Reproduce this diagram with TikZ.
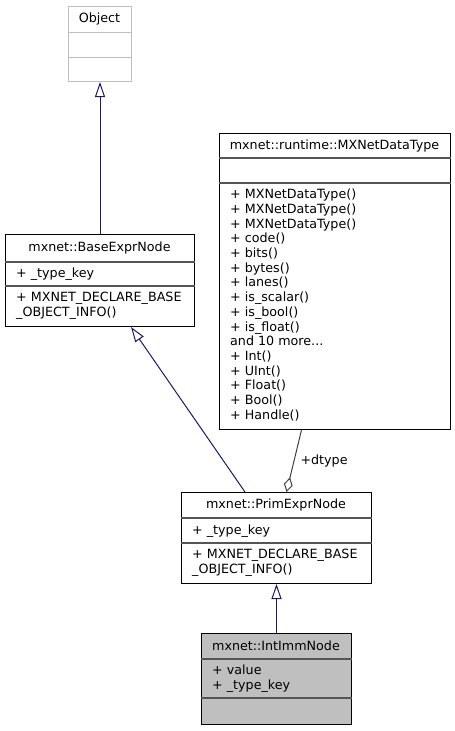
\documentclass[tikz,border=0pt]{standalone}
\usepackage{fontspec}
\setmainfont{DejaVu Sans}
\usetikzlibrary{arrows.meta}
\definecolor{edgeblue}{RGB}{25,25,112}
\definecolor{assoc}{RGB}{64,64,64}
\definecolor{muted}{RGB}{191,191,191}
\definecolor{rule}{RGB}{85,85,85}
\begin{document}
\begin{tikzpicture}[x=1pt,y=-1pt,
  every node/.style={font=\fontsize{12.7}{14.7}\selectfont, inner sep=0pt},
  classbox/.style={draw=black, line width=1pt, anchor=north west, inner sep=0pt},
  divider/.style={draw=rule, line width=1.4pt},
  title/.style={anchor=center},
  member/.style={anchor=west, align=left},
  inherit/.style={draw=edgeblue, line width=1pt, -{Triangle[open,length=15pt,width=10pt]}},
  usage/.style={draw=assoc, line width=1pt, {Diamond[open,length=15pt,width=9pt]}-}
]
\useasboundingbox (0,0) rectangle (455,731);

% Object (external base, greyed out)
\node[classbox, draw=muted, minimum width=63pt, minimum height=75pt] (obj) at (68,6) {};
\draw[divider, draw=muted, line width=1pt] (obj.west |- 0,32) -- (obj.east |- 0,32);
\draw[divider, draw=muted, line width=1pt] (obj.west |- 0,57) -- (obj.east |- 0,57);
\node[title] (objname) at (99.5,19) {Object};

% mxnet::BaseExprNode
\node[classbox, minimum width=189pt, minimum height=92pt] (base) at (5,234) {};
\draw[divider] (base.west |- 0,262) -- (base.east |- 0,262);
\draw[divider] (base.west |- 0,286) -- (base.east |- 0,286);
\node[title] (basename) at (99.5,248) {mxnet::BaseExprNode};
\node[member] (baseattr) at (16,274) {+ \_type\_key};
\node[member] (baseops) at (16,306) {+ MXNET\_DECLARE\_BASE\\\_OBJECT\_INFO()};

% mxnet::runtime::MXNetDataType
\node[classbox, minimum width=231pt, minimum height=296pt] (dt) at (219,133) {};
\draw[divider] (dt.west |- 0,158) -- (dt.east |- 0,158);
\draw[divider] (dt.west |- 0,183) -- (dt.east |- 0,183);
\node[title] (dtname) at (334.5,146) {mxnet::runtime::MXNetDataType};
\node[member] (dtops) at (230,305) {+ MXNetDataType()\\+ MXNetDataType()\\+ MXNetDataType()\\+ code()\\+ bits()\\+ bytes()\\+ lanes()\\+ is\_scalar()\\+ is\_bool()\\+ is\_float()\\and 10 more...\\+ Int()\\+ UInt()\\+ Float()\\+ Bool()\\+ Handle()};

% mxnet::PrimExprNode
\node[classbox, minimum width=190pt, minimum height=91pt] (prim) at (181,492) {};
\draw[divider] (prim.west |- 0,518) -- (prim.east |- 0,518);
\draw[divider] (prim.west |- 0,543) -- (prim.east |- 0,543);
\node[title] (primname) at (276,505) {mxnet::PrimExprNode};
\node[member] (primattr) at (192,531) {+ \_type\_key};
\node[member] (primops) at (192,563) {+ MXNET\_DECLARE\_BASE\\\_OBJECT\_INFO()};

% mxnet::IntImmNode (highlighted)
\node[classbox, fill=muted, minimum width=150pt, minimum height=91pt] (imm) at (201,633) {};
\draw[divider] (imm.west |- 0,659) -- (imm.east |- 0,659);
\draw[divider] (imm.west |- 0,698) -- (imm.east |- 0,698);
\node[title] (immname) at (276,646) {mxnet::IntImmNode};
\node[member] (immattr) at (212,679) {+ value\\+ \_type\_key};

% connectors
\coordinate (baseto) at ([xshift=126pt]base.south west);
\coordinate (primfrom) at ([xshift=64pt]prim.north west);
\coordinate (primdiamond) at ([xshift=10pt]prim.north);
\coordinate (dtfrom) at ([xshift=-33.5pt]dt.south);

\draw[inherit] (base.north) -- (obj.south);
\draw[inherit] (primfrom) -- (baseto);
\draw[inherit] (imm.north) -- (prim.south);
\draw[usage] (primdiamond) -- node[pos=0.5, anchor=west, xshift=6pt, text=black] (dtypelabel) {+dtype} (dtfrom);
\end{tikzpicture}
\end{document}
